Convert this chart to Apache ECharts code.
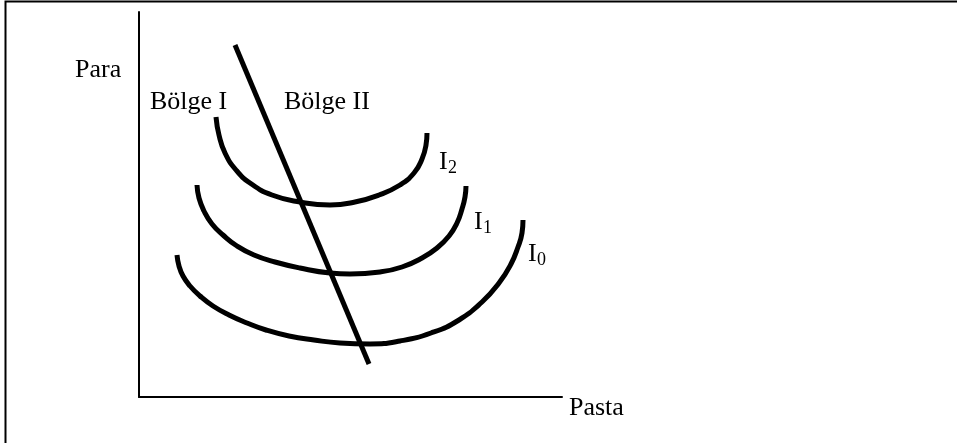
<!DOCTYPE html>
<html>
<head>
<meta charset="utf-8">
<script src="https://cdn.jsdelivr.net/npm/echarts@6/dist/echarts.min.js"></script>
<style>
  html, body { margin: 0; padding: 0; background: #fff; }
  #main { width: 957px; height: 443px; }
</style>
</head>
<body>
<div id="main"></div>
<script>
// axis units: Pasta (x) and Para (y)
const ayirici = [[96, 352], [230, 33]];

const egriI2 = [[77, 280], [80, 262], [86, 244], [97, 227], [111, 214], [133, 202], [161, 195],
  [191, 192], [216, 195], [240, 202], [261, 212], [275, 224], [283, 238], [287, 252], [288, 264]];

const egriI1 = [[58, 212], [60, 199], [65, 186], [73, 173], [84, 162], [98, 151], [115, 142],
  [136, 135], [161, 129], [191, 124], [211, 123], [241, 125], [263, 130], [283, 139], [298, 149],
  [310, 161], [318, 174], [323, 188], [326, 200], [327, 211]];

const egriI0 = [[38, 142], [40, 131], [44, 121], [51, 111], [61, 101], [74, 91], [90, 82],
  [108, 74], [127, 67], [150, 61], [175, 57], [201, 54], [231, 53], [261, 56], [292, 64],
  [320, 77], [343, 95], [360, 114], [372, 133], [379, 150], [383, 164], [384, 177]];

const xAdi = 'Pasta';
const yAdi = 'Para';
const bolgeler = ['Bölge I', 'Bölge II'];
const egriAdlari = [['I', '2'], ['I', '1'], ['I', '0']];

const FONT = "'Liberation Serif', 'Times New Roman', serif";
const chart = echarts.init(document.getElementById('main'));

function kalinCizgi(name, data) {
  return {
    name: name,
    type: 'line',
    data: data,
    smooth: true,
    showSymbol: false,
    silent: true,
    lineStyle: { color: '#000', width: 5, cap: 'butt', join: 'round' }
  };
}

function yazi(text, x, y, size) {
  return {
    type: 'text',
    x: x,
    y: y,
    style: {
      text: text,
      font: size + 'px ' + FONT,
      fill: '#000',
      verticalAlign: 'middle'
    }
  };
}

// label spots for the I curves and their subscripts
const egriYerleri = [[439, 162, 168], [474, 222, 228], [528, 254, 260]];

const grafikler = [
  {
    type: 'rect',
    shape: { x: 5.5, y: 1.5, width: 1200, height: 1200 },
    style: { fill: 'none', stroke: '#000', lineWidth: 2 }
  },
  yazi(yAdi, 75, 70, 26),
  yazi(bolgeler[0], 150, 102, 26),
  yazi(bolgeler[1], 284, 102, 26),
  yazi(xAdi, 569, 408, 26)
];
egriAdlari.forEach((e, i) => {
  const p = egriYerleri[i];
  grafikler.push(yazi(e[0], p[0], p[1], 26));
  grafikler.push(yazi(e[1], p[0] + 9, p[2], 18));
});

chart.setOption({
  animation: false,
  grid: { left: 139, top: 12, right: 395, bottom: 46 },
  xAxis: {
    type: 'value', min: 0, max: 423,
    axisLine: { show: true, lineStyle: { color: '#000', width: 2 } },
    axisTick: { show: false }, axisLabel: { show: false }, splitLine: { show: false }
  },
  yAxis: {
    type: 'value', min: 0, max: 385,
    axisLine: { show: true, lineStyle: { color: '#000', width: 2 } },
    axisTick: { show: false }, axisLabel: { show: false }, splitLine: { show: false }
  },
  series: [
    kalinCizgi('I2', egriI2),
    kalinCizgi('I1', egriI1),
    kalinCizgi('I0', egriI0),
    kalinCizgi('ayirici', ayirici)
  ],
  graphic: grafikler
});
</script>
</body>
</html>
